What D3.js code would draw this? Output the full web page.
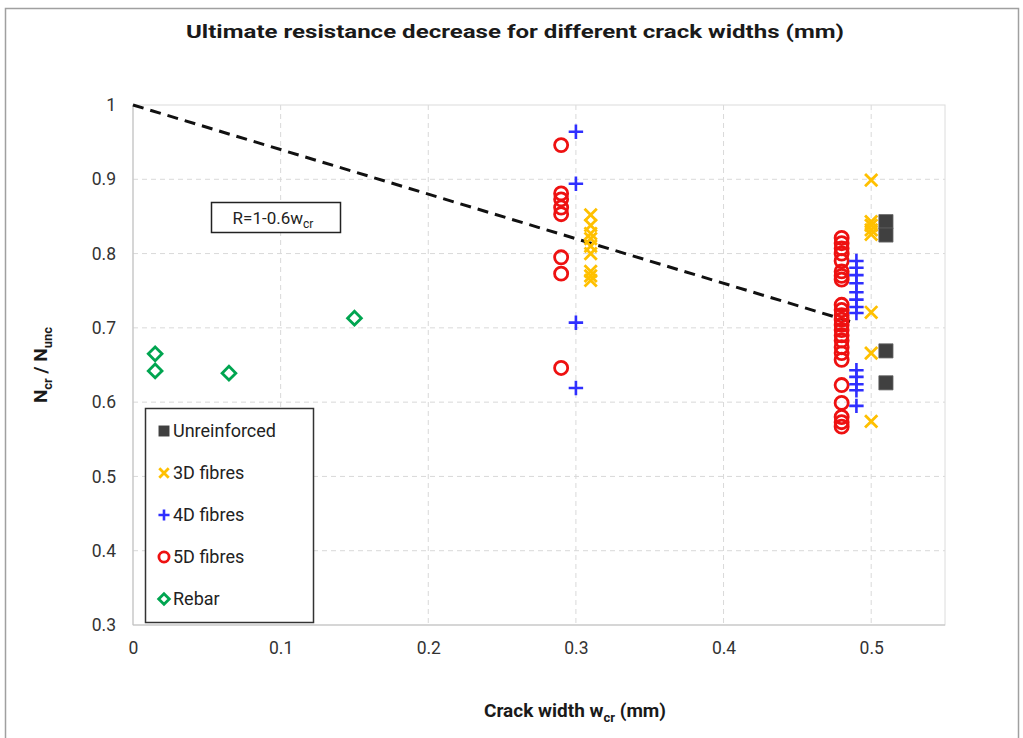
<!DOCTYPE html>
<html>
<head>
<meta charset="utf-8">
<script src="https://cdn.jsdelivr.net/npm/d3@7"></script>
<style>
  body { margin: 0; background: #fff; }
  text { font-family: Roboto, "Liberation Sans", sans-serif; }
</style>
</head>
<body>
<svg id="chart" width="1023" height="738"></svg>
<script>
// data
var xTicks = [0, 0.1, 0.2, 0.3, 0.4, 0.5];
var yTicks = [0.3, 0.4, 0.5, 0.6, 0.7, 0.8, 0.9, 1];

var unreinforced = [[0.51, 0.843], [0.51, 0.825], [0.51, 0.669], [0.51, 0.626]];
var fibres3D = [
  [0.31, 0.852], [0.31, 0.838], [0.31, 0.827], [0.31, 0.82], [0.31, 0.81], [0.31, 0.80],
  [0.31, 0.776], [0.31, 0.77], [0.31, 0.764],
  [0.5, 0.899], [0.5, 0.843], [0.5, 0.838], [0.5, 0.832], [0.5, 0.826],
  [0.5, 0.721], [0.5, 0.666], [0.5, 0.574]
];
var fibres4D = [
  [0.3, 0.964], [0.3, 0.894], [0.3, 0.707], [0.3, 0.619],
  [0.49, 0.79], [0.49, 0.781], [0.49, 0.771], [0.49, 0.76], [0.49, 0.748], [0.49, 0.738],
  [0.49, 0.728], [0.49, 0.72], [0.49, 0.643], [0.49, 0.634], [0.49, 0.624], [0.49, 0.616], [0.49, 0.595]
];
var fibres5D = [
  [0.29, 0.946], [0.29, 0.881], [0.29, 0.873], [0.29, 0.862], [0.29, 0.853], [0.29, 0.795],
  [0.29, 0.773], [0.29, 0.646],
  [0.48, 0.821], [0.48, 0.814], [0.48, 0.807], [0.48, 0.8], [0.48, 0.79], [0.48, 0.776],
  [0.48, 0.77], [0.48, 0.765], [0.48, 0.731], [0.48, 0.724], [0.48, 0.717], [0.48, 0.711],
  [0.48, 0.704], [0.48, 0.697], [0.48, 0.69], [0.48, 0.683], [0.48, 0.674], [0.48, 0.666],
  [0.48, 0.657], [0.48, 0.623], [0.48, 0.599], [0.48, 0.58], [0.48, 0.573], [0.48, 0.567]
];
var rebar = [[0.015, 0.665], [0.015, 0.642], [0.065, 0.639], [0.15, 0.713]];
var fitLine = [[0, 1], [0.49, 1 - 0.6 * 0.49]];

var svg = d3.select("#chart");
var margin = {left: 133, top: 105, right: 78, bottom: 113};
var width = 1023 - margin.left - margin.right;
var height = 738 - margin.top - margin.bottom;

var x = d3.scaleLinear().domain([0, 0.55]).range([margin.left, margin.left + width]);
var y = d3.scaleLinear().domain([0.3, 1]).range([margin.top + height, margin.top]);

// outer frame
svg.append("rect")
  .attr("x", 5.5).attr("y", 8.5).attr("width", 1013).attr("height", 740)
  .attr("fill", "none").attr("stroke", "#a0a0a0").attr("stroke-width", 1.5);

// title
svg.append("text")
  .attr("x", 515).attr("y", 38)
  .attr("text-anchor", "middle")
  .attr("font-size", 18).attr("font-weight", "bold").attr("fill", "#1a1a1a")
  .attr("textLength", 658).attr("lengthAdjust", "spacingAndGlyphs")
  .text("Ultimate resistance decrease for different crack widths (mm)");

// grid
var grid = svg.append("g");
grid.selectAll(".gx").data(xTicks.filter(function(d) { return d > 0; }))
  .enter().append("line")
  .attr("x1", x).attr("x2", x).attr("y1", y(1)).attr("y2", y(0.3))
  .attr("stroke", "#d9d9d9").attr("stroke-dasharray", "5,4");
grid.selectAll(".gy").data(yTicks.filter(function(d) { return d > 0.3 && d < 1; }))
  .enter().append("line")
  .attr("y1", y).attr("y2", y).attr("x1", x(0)).attr("x2", x(0.55))
  .attr("stroke", "#d9d9d9").attr("stroke-dasharray", "5,4");

// plot area border
svg.append("rect")
  .attr("x", x(0)).attr("y", y(1)).attr("width", width).attr("height", height)
  .attr("fill", "none").attr("stroke", "#dcdcdc");
svg.append("line")
  .attr("x1", x(0)).attr("x2", x(0)).attr("y1", y(1)).attr("y2", y(0.3))
  .attr("stroke", "#bfbfbf");
svg.append("line")
  .attr("x1", x(0)).attr("x2", x(0.55)).attr("y1", y(0.3)).attr("y2", y(0.3))
  .attr("stroke", "#bfbfbf");

// axes (labels only)
var xAxis = svg.append("g")
  .attr("transform", "translate(0," + (y(0.3) + 10) + ")")
  .call(d3.axisBottom(x).tickValues(xTicks).tickSize(0).tickFormat(d3.format("")));
var yAxis = svg.append("g")
  .attr("transform", "translate(" + (x(0) - 14) + ",0)")
  .call(d3.axisLeft(y).tickValues(yTicks).tickSize(0).tickFormat(d3.format("")));
[xAxis, yAxis].forEach(function(a) {
  a.select(".domain").remove();
  a.selectAll("text").attr("font-size", 17.5).attr("fill", "#333")
    .style("font-family", "Roboto, sans-serif");
});
xAxis.selectAll("text").attr("dy", "0.9em");

// axis titles
var xt = svg.append("text")
  .attr("x", 575).attr("y", 717)
  .attr("text-anchor", "middle")
  .attr("font-size", 19).attr("font-weight", "bold").attr("fill", "#1a1a1a");
xt.append("tspan").text("Crack width w");
xt.append("tspan").attr("font-size", 13).attr("dy", 5).text("cr");
xt.append("tspan").attr("dy", -5).text(" (mm)");

var yt = svg.append("text")
  .attr("transform", "translate(47," + (y(0.65)) + ") rotate(-90)")
  .attr("text-anchor", "middle")
  .attr("font-size", 19).attr("font-weight", "bold").attr("fill", "#1a1a1a");
yt.append("tspan").text("N");
yt.append("tspan").attr("font-size", 13).attr("dy", 5).text("cr");
yt.append("tspan").attr("dy", -5).text(" / N");
yt.append("tspan").attr("font-size", 13).attr("dy", 5).text("unc");

// fit line
svg.append("path")
  .datum(fitLine)
  .attr("d", d3.line().x(function(d) { return x(d[0]); }).y(function(d) { return y(d[1]); }))
  .attr("stroke", "#111").attr("stroke-width", 3).attr("stroke-dasharray", "11,7")
  .attr("fill", "none");

// annotation box
svg.append("rect")
  .attr("x", 211.5).attr("y", 202.5).attr("width", 129).attr("height", 30)
  .attr("fill", "#fff").attr("stroke", "#222").attr("stroke-width", 1.5);
var ann = svg.append("text")
  .attr("x", 273).attr("y", 224)
  .attr("text-anchor", "middle")
  .attr("font-size", 17).attr("fill", "#222");
ann.append("tspan").text("R=1-0.6w");
ann.append("tspan").attr("font-size", 12).attr("dy", 4).text("cr");

// series
var series = [
  {name: "Rebar", data: rebar, type: d3.symbolDiamond2, size: 120, color: "#00a550", fill: false, sw: 2.8},
  {name: "5D fibres", data: fibres5D, type: d3.symbolCircle, size: 135, color: "#ee1111", fill: false, sw: 2.8},
  {name: "4D fibres", data: fibres4D, type: d3.symbolPlus, size: 70, color: "#2f2fff", fill: false, sw: 2.6},
  {name: "3D fibres", data: fibres3D, type: d3.symbolTimes, size: 100, color: "#ffc000", fill: false, sw: 2.8},
  {name: "Unreinforced", data: unreinforced, type: d3.symbolSquare, size: 200, color: "#404040", fill: true, sw: 0}
];

series.forEach(function(s) {
  svg.append("g").selectAll("path")
    .data(s.data)
    .enter().append("path")
    .attr("transform", function(d) { return "translate(" + x(d[0]) + "," + y(d[1]) + ")"; })
    .attr("d", d3.symbol().type(s.type).size(s.size))
    .attr("fill", s.fill ? s.color : "none")
    .attr("stroke", s.fill ? "#666" : s.color)
    .attr("stroke-width", s.fill ? 0.8 : s.sw);
});

// legend
var legend = svg.append("g");
legend.append("rect")
  .attr("x", 145.5).attr("y", 408.5).attr("width", 168).attr("height", 214)
  .attr("fill", "#fff").attr("stroke", "#333").attr("stroke-width", 1.5);
var legendOrder = series.slice().reverse();
legendOrder.forEach(function(s, i) {
  var ly = 431 + i * 42;
  legend.append("path")
    .attr("transform", "translate(164," + ly + ")")
    .attr("d", d3.symbol().type(s.type).size(s.size * 0.6))
    .attr("fill", s.fill ? s.color : "none")
    .attr("stroke", s.fill ? "none" : s.color)
    .attr("stroke-width", s.sw);
  legend.append("text")
    .attr("x", 173).attr("y", ly + 6)
    .attr("font-size", 18).attr("fill", "#222")
    .text(s.name);
});
</script>
</body>
</html>
